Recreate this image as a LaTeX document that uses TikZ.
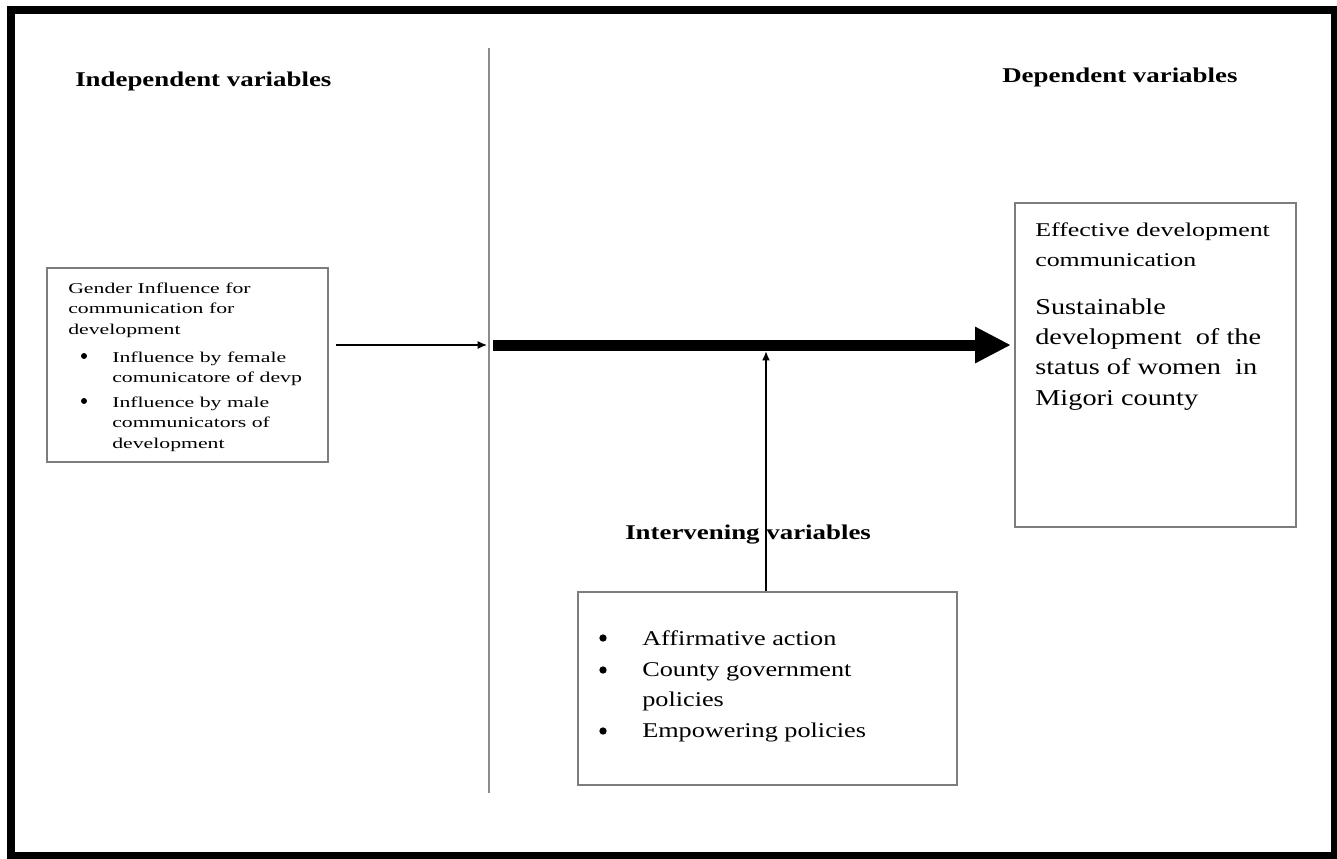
\documentclass[tikz,border=0pt]{standalone}
\usepackage{fontspec}
\usetikzlibrary{arrows.meta}
\setmainfont{Liberation Serif}[FakeStretch=1.25]
\newfontfamily\headfont{Liberation Serif}[FakeStretch=1.28]
\newfontfamily\wideA{Liberation Serif}[FakeStretch=1.45]
\newfontfamily\wideB{Liberation Serif}[FakeStretch=1.33]
\newcommand{\toplines}[1]{\begin{tabular}[t]{@{}l@{}}#1\end{tabular}}
\definecolor{boxgray}{RGB}{125,125,125}
\definecolor{linegray}{RGB}{140,140,140}
\tikzset{
  varbox/.style={draw=boxgray, line width=1.5pt, fill=white, inner sep=0pt},
  head/.style={font=\headfont\bfseries\fontsize{15.75}{18}\selectfont, anchor=base west, inner sep=0pt},
  lefttext/.style={font=\wideA\fontsize{11.25}{15.4}\selectfont, anchor=base west, inner sep=0pt},
  righttitle/.style={font=\wideB\fontsize{14.6}{22.5}\selectfont, anchor=base west, inner sep=0pt},
  rightbody/.style={font=\fontsize{17}{22.8}\selectfont, anchor=base west, inner sep=0pt},
  bottomtext/.style={font=\fontsize{15.75}{23}\selectfont, anchor=base west, inner sep=0pt},
  smalldot/.style={circle, fill=black, inner sep=0pt, minimum size=4.5pt},
  bigdot/.style={circle, fill=black, inner sep=0pt, minimum size=5.5pt},
  thin arrow/.style={draw=black, line width=1pt, -{Latex[length=7pt,width=6pt]}},
}
\begin{document}
\begin{tikzpicture}[x=0.75pt,y=-0.75pt]
\useasboundingbox (0,0) rectangle (1337,858);
% outer frame
\draw[line width=6pt] (11,10) rectangle (1335,856);
% divider
\coordinate (vtop) at (489,48);
\coordinate (vbot) at (489,793);
\draw[linegray, line width=1.5pt] (vtop) -- (vbot);
% headings
\node[head] (hindep) at (75,86) {Independent variables};
\node[head] (hdep) at (1002,82) {Dependent variables};
% boxes
\node[varbox, minimum width=210.75pt, minimum height=145.5pt] (indep) at (187.5,365) {};
\node[varbox, minimum width=210.75pt, minimum height=243pt] (dep) at (1155.5,365) {};
\node[varbox, minimum width=284.25pt, minimum height=144.75pt] (interv) at (767.5,688.5) {};
% left box text
\node[lefttext] (ltitle) at (68,293) {\toplines{Gender Influence for\\communication for\\development}};
\node[smalldot] (lb1) at (84,356) {};
\node[lefttext] (li1) at (112,362) {\toplines{Influence by female\\comunicatore of devp}};
\node[smalldot] (lb2) at (84,401) {};
\node[lefttext] (li2) at (112,407) {\toplines{Influence by male\\communicators of\\development}};
% right box text
\node[righttitle] (rtitle) at (1035,236) {\toplines{Effective development\\communication}};
\node[rightbody] (rbody) at (1035,314) {\toplines{Sustainable\\development\ \ of the\\status of women\ \ in\\Migori county}};
% bottom box text
\node[bigdot] (bb1) at (603,638) {};
\node[bottomtext] (bi1) at (642,645) {Affirmative action};
\node[bigdot] (bb2) at (603,670) {};
\node[bottomtext] (bi2) at (642,676) {\toplines{County government\\policies}};
\node[bigdot] (bb3) at (603,731) {};
\node[bottomtext] (bi3) at (642,737) {Empowering policies};
% intervening heading
\node[head] (hinterv) at (625,539) {Intervening variables};
% connectors
\coordinate (mainstart) at (493,345);
\coordinate (vtip) at (766,351);
\draw[thin arrow, shorten <=5.25pt, shorten >=1.5pt] (indep.east |- mainstart) -- (vtop |- mainstart);
\draw[line width=8.25pt, -{Triangle[length=27pt,width=25.5pt]}, shorten >=2.25pt] (mainstart) -- (dep.west |- mainstart);
\draw[thin arrow, line width=1.5pt] (interv.north -| vtip) -- (vtip);
\end{tikzpicture}
\end{document}
